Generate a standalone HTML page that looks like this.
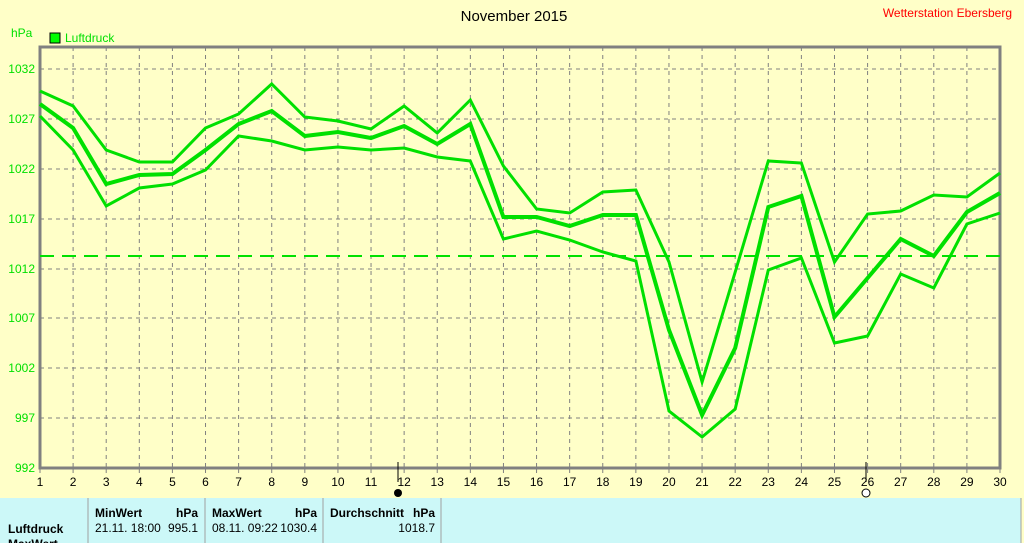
<!DOCTYPE html>
<html><head><meta charset="utf-8"><style>
body{margin:0;width:1024px;height:543px;overflow:hidden;background:#ffffc8;font-family:"Liberation Sans",sans-serif}
svg{position:absolute;left:0;top:0}
</style></head><body>
<svg width="1024" height="543" xmlns="http://www.w3.org/2000/svg" font-family="Liberation Sans, sans-serif">
<rect width="1024" height="543" fill="#ffffc8"/>
<text x="514" y="21" font-size="15" text-anchor="middle" fill="#000">November 2015</text>
<text x="1012" y="17" font-size="12" text-anchor="end" fill="#ff0000">Wetterstation Ebersberg</text>
<text x="11" y="37" font-size="12" fill="#00e000">hPa</text>
<rect x="50" y="33" width="10" height="10" fill="#00ff00" stroke="#000" stroke-width="1"/>
<text x="65" y="42" font-size="12" fill="#00e000">Luftdruck</text>
<g id="grid" stroke="#808080" stroke-dasharray="4,4" stroke-width="1">
<line x1="40" x2="1000" y1="69" y2="69"/><line x1="40" x2="1000" y1="119" y2="119"/><line x1="40" x2="1000" y1="169" y2="169"/><line x1="40" x2="1000" y1="219" y2="219"/><line x1="40" x2="1000" y1="269" y2="269"/><line x1="40" x2="1000" y1="318" y2="318"/><line x1="40" x2="1000" y1="368" y2="368"/><line x1="40" x2="1000" y1="418" y2="418"/>
</g>
<g stroke="#808080" stroke-dasharray="4,4" stroke-width="1" id="vg"></g>
<rect x="40" y="47" width="960" height="421" fill="none" stroke="#808080" stroke-width="3"/>
<g font-size="12" fill="#00e000" text-anchor="end">
<text x="35" y="73">1032</text><text x="35" y="123">1027</text><text x="35" y="173">1022</text><text x="35" y="223">1017</text><text x="35" y="273">1012</text><text x="35" y="322">1007</text><text x="35" y="372">1002</text><text x="35" y="422">997</text><text x="35" y="472">992</text>
</g>
<g id="xl" font-size="12" fill="#000" text-anchor="middle"></g>
<g id="tk" stroke="#808080" stroke-width="1"></g>
<line x1="398" y1="462" x2="398" y2="482" stroke="#000"/>
<line x1="866" y1="462" x2="866" y2="482" stroke="#000"/>
<circle cx="398" cy="493" r="4" fill="#000"/>
<circle cx="866" cy="493" r="4" fill="#fff" stroke="#000"/>
<line x1="40" x2="1000" y1="256" y2="256" stroke="#00e000" stroke-width="2" stroke-dasharray="14,8"/>
<polyline id="pmax" fill="none" stroke="#00e000" stroke-width="3"/>
<polyline id="pmid" fill="none" stroke="#00e000" stroke-width="4"/>
<polyline id="pmin" fill="none" stroke="#00e000" stroke-width="3"/>
<rect x="0" y="498" width="1021" height="45" fill="#ccf8f8"/>
<g stroke="#a0a0a0"><line x1="88" y1="498" x2="88" y2="543"/><line x1="205" y1="498" x2="205" y2="543"/><line x1="323" y1="498" x2="323" y2="543"/><line x1="441" y1="498" x2="441" y2="543"/><line x1="1021" y1="498" x2="1021" y2="543"/></g>
<g font-size="12" fill="#000">
<text x="95" y="517" font-weight="bold">MinWert</text><text x="198" y="517" font-weight="bold" text-anchor="end">hPa</text>
<text x="212" y="517" font-weight="bold">MaxWert</text><text x="317" y="517" font-weight="bold" text-anchor="end">hPa</text>
<text x="330" y="517" font-weight="bold">Durchschnitt</text><text x="435" y="517" font-weight="bold" text-anchor="end">hPa</text>
<text x="8" y="533" font-weight="bold">Luftdruck</text>
<text x="95" y="532">21.11.  18:00</text><text x="198" y="532" text-anchor="end">995.1</text>
<text x="212" y="532">08.11.  09:22</text><text x="317" y="532" text-anchor="end">1030.4</text>
<text x="435" y="532" text-anchor="end">1018.7</text>
<text x="8" y="548" font-weight="bold">MaxWert</text>
</g>
</svg>
<script>
var X=d=>40+(d-1)*960/29;
var mx=[91,106,150,162,162,128,114,84,117,121,129,106,133,100,166,209,213,192,190,262,382,272,161,163,262,214,211,195,197,173];
var md=[104,128,184,175,174,150,124,111,136,132,138,126,144,124,217,217,226,215,215,330,415,348,207,196,317,278,239,256,212,193];
var mn=[116,150,206,188,184,170,136,141,150,147,150,148,157,161,239,231,240,252,261,411,437,409,270,258,343,336,274,288,224,213];
function pts(a){return a.map((y,i)=>X(i+1).toFixed(1)+","+y).join(" ")}
document.getElementById("pmax").setAttribute("points",pts(mx));
document.getElementById("pmid").setAttribute("points",pts(md));
document.getElementById("pmin").setAttribute("points",pts(mn));
var ns="http://www.w3.org/2000/svg",vg=document.getElementById("vg"),xl=document.getElementById("xl"),tk=document.getElementById("tk");
for(var d=1;d<=30;d++){var x=X(d);
if(d>1&&d<30){var l=document.createElementNS(ns,"line");l.setAttribute("x1",x);l.setAttribute("x2",x);l.setAttribute("y1",47);l.setAttribute("y2",468);vg.appendChild(l);}
var t=document.createElementNS(ns,"text");t.setAttribute("x",x);t.setAttribute("y",486);t.textContent=d;xl.appendChild(t);
var k=document.createElementNS(ns,"line");k.setAttribute("x1",x);k.setAttribute("x2",x);k.setAttribute("y1",468);k.setAttribute("y2",473);tk.appendChild(k);}
</script>
</body></html>
